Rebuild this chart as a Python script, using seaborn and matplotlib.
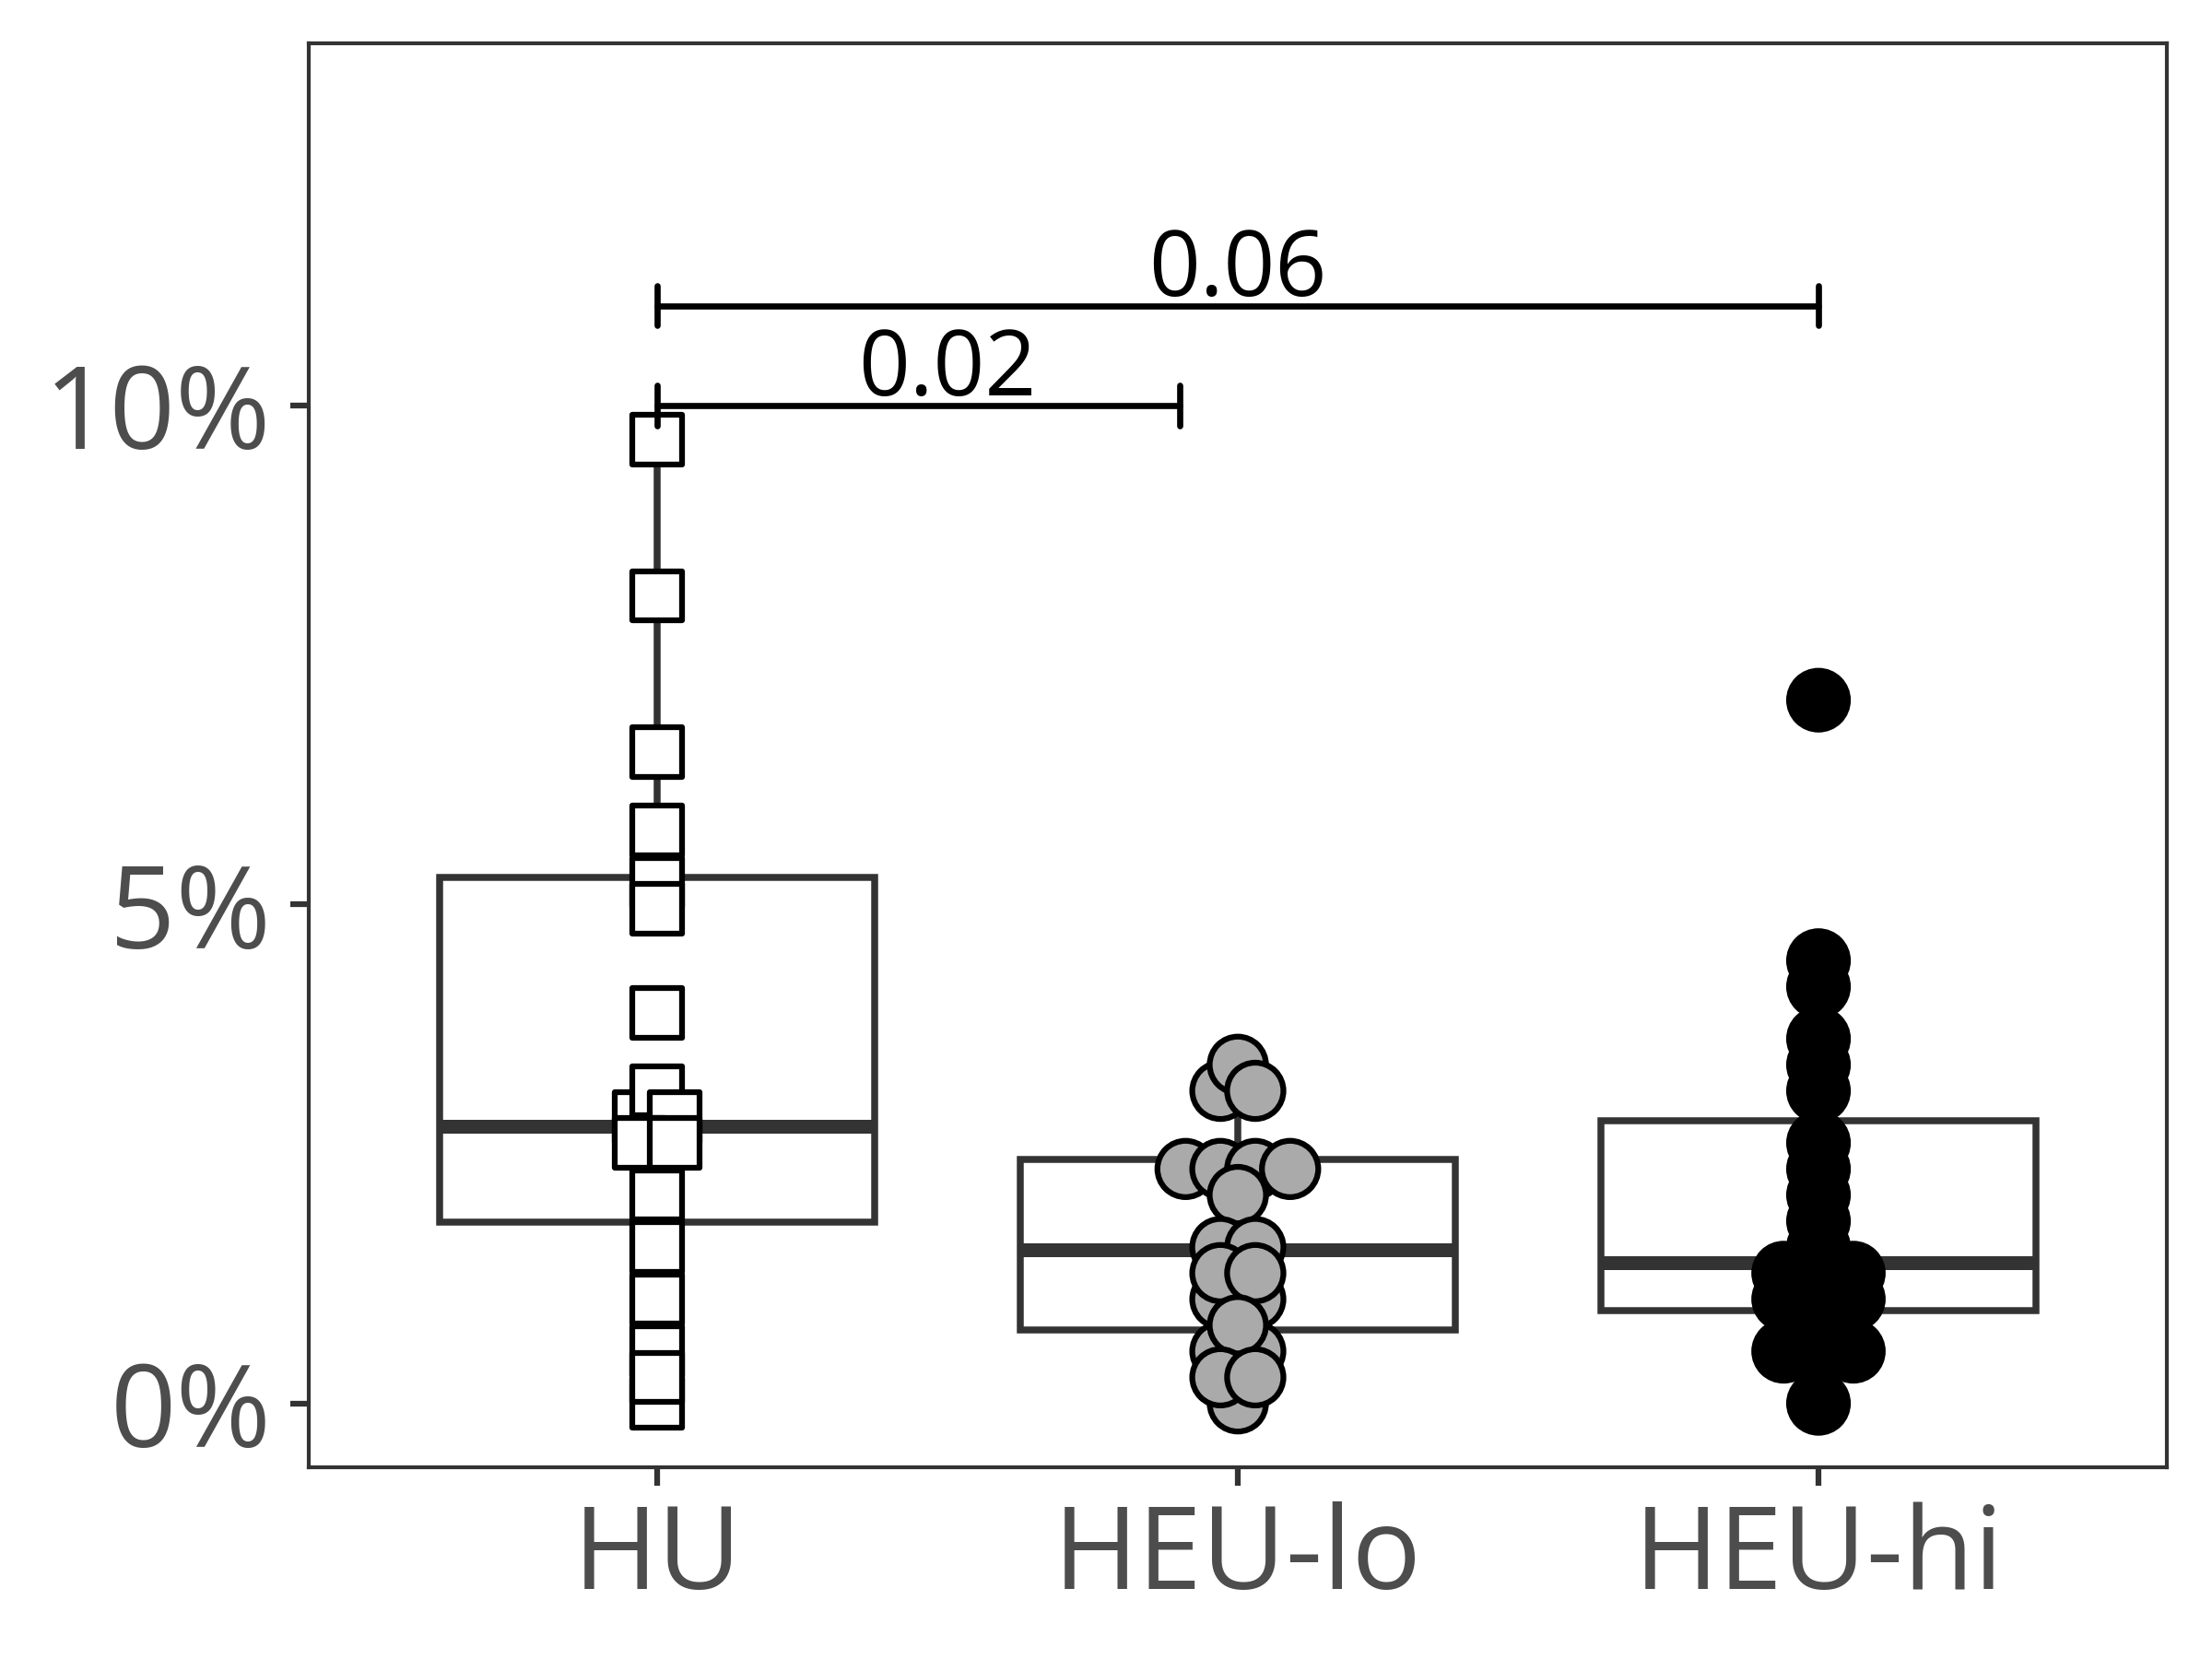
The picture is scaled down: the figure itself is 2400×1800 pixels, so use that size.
import numpy as np
import pandas as pd
import seaborn as sns
import matplotlib.pyplot as plt

# values in percent, listed in drawing order
groups = ['HU', 'HEU-lo', 'HEU-hi']
hu_vals = [5.34, 5.75, 5.08, 6.53, 8.10, 9.66, 3.93, 2.76, 3.12, 2.79,
           2.60, 2.66, 2.21, 1.69, 1.05, 0.53, 0.01, 0.27]
heu_lo_vals = [3.10, 3.40, 3.15, 2.30, 2.44, 2.46, 2.47, 2.10, 1.65, 1.69,
               1.02, 1.08, 1.30, 1.43, 0.50, 0.55, 0.80, 0.02, 0.25, 0.28]
heu_hi_vals = [7.05, 4.44, 4.18, 3.65, 3.39, 3.02, 2.64, 2.35, 2.09, 1.83,
               1.57, 1.25, 1.32, 1.41, 0.98, 1.05, 1.10, 0.75, 0.88,
               0.50, 0.52, 0.55, 0.0]

y_ticks = [0, 5, 10]
y_tick_labels = ['0%', '5%', '10%']

comparisons = [('HU', 'HEU-lo'), ('HU', 'HEU-hi')]
p_labels = ['0.02', '0.06']
bracket_y = [10.0, 11.0]
bracket_trim = [0.1, 0.0]

fills = {'HU': 'white', 'HEU-lo': '#AAAAAA', 'HEU-hi': 'black'}
markers = {'HU': 's', 'HEU-lo': 'o', 'HEU-hi': 'o'}
sizes = {'HU': 165, 'HEU-lo': 215, 'HEU-hi': 235}


def center_swarm(values, step_y, step_x):
    """grid beeswarm: snap y to bins, centre points of a bin side by side"""
    v = np.asarray(values, dtype=float)
    bins = np.round(v / step_y).astype(int)
    xoff = np.zeros(len(v))
    for b in np.unique(bins):
        idx = np.where(bins == b)[0]
        idx = idx[np.argsort(v[idx], kind='stable')]
        m = len(idx)
        xoff[idx] = (np.arange(m) - (m - 1) / 2) * step_x
    return xoff, bins * step_y


frames = []
for i, (g, vals) in enumerate(zip(groups, [hu_vals, heu_lo_vals, heu_hi_vals])):
    xoff, ysnap = center_swarm(vals, 0.261, 0.06)
    frames.append(pd.DataFrame({'group': g, 'value': vals,
                                'xpos': i + xoff, 'ypos': ysnap}))
df = pd.concat(frames, ignore_index=True)

sns.set_theme(style='white')
plt.rcParams['font.family'] = ['Open Sans', 'DejaVu Sans']

fig = plt.figure(figsize=(8, 6), dpi=300)
ax = fig.add_axes([0.1396, 0.1156, 0.84, 0.8583])

sns.boxplot(data=df, x='group', y='value', order=groups, width=0.75,
            showfliers=False, color='white', saturation=1,
            linecolor='#333333', linewidth=1.8,
            medianprops={'linewidth': 3.6},
            capprops={'visible': False}, ax=ax)

sns.scatterplot(data=df, x='xpos', y='ypos', hue='group', style='group',
                size='group', palette=fills, markers=markers, sizes=sizes,
                edgecolor='black', linewidth=1.5, legend=False, zorder=3, ax=ax)

# significance brackets
for (g1, g2), lab, yb, trim in zip(comparisons, p_labels, bracket_y, bracket_trim):
    x1, x2 = groups.index(g1), groups.index(g2) - trim
    ax.plot([x1, x2], [yb, yb], color='black', lw=1.6, zorder=4)
    ax.plot([x1, x1], [yb - 0.2, yb + 0.2], color='black', lw=1.6, zorder=4)
    ax.plot([x2, x2], [yb - 0.2, yb + 0.2], color='black', lw=1.6, zorder=4)
    xm = (groups.index(g1) + groups.index(g2)) / 2
    ax.text(xm, yb + 0.1, lab, ha='center', va='baseline', fontsize=23.5,
            color='black')

ax.set_xlim(-0.6, 2.6)
ax.set_ylim(-0.64, 13.63)
ax.set_yticks(y_ticks, y_tick_labels)
ax.set_xlabel('')
ax.set_ylabel('')
ax.tick_params(axis='both', bottom=True, left=True, length=4.8, width=1.5,
               color='#333333', labelcolor='#4D4D4D', labelsize=30, pad=4)
ax.tick_params(axis='y', pad=5)
for sp in ax.spines.values():
    sp.set_color('#333333')
    sp.set_linewidth(1.0)

fig.savefig('out.png', dpi=300)
